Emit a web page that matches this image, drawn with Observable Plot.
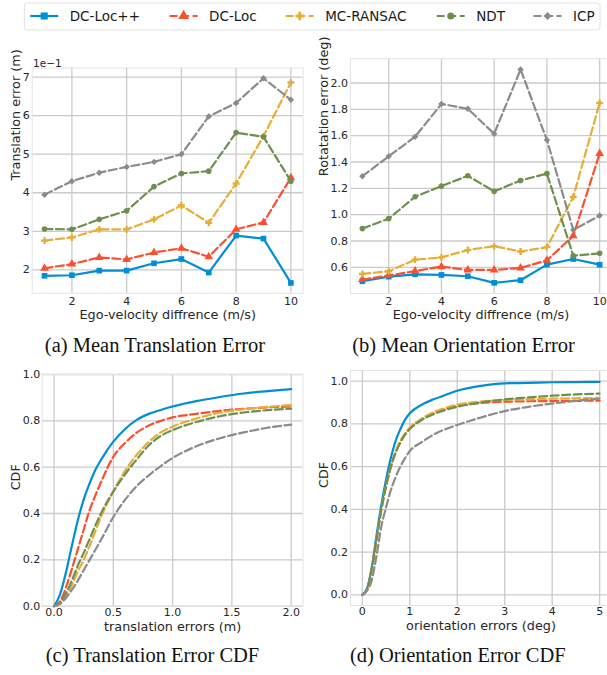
<!DOCTYPE html>
<html><head><meta charset="utf-8">
<script src="https://cdn.jsdelivr.net/npm/d3@7"></script>
<script src="https://cdn.jsdelivr.net/npm/@observablehq/plot@0.6"></script>
<style>
html,body{margin:0;padding:0;background:#fff;overflow:hidden}
#root{position:relative;width:607px;height:675px;overflow:hidden;background:#fff}
#root > svg{position:absolute}
</style></head><body><div id="root"></div>
<script>
// ---------------- data ----------------
const methods = ["DC-Loc++", "DC-Loc", "MC-RANSAC", "NDT", "ICP"];
const velocity = [1, 2, 3, 4, 5, 6, 7, 8, 9, 10];

// (a) mean translation error (m)
const transErrDCLocPP = [0.1845, 0.186, 0.198, 0.198, 0.217, 0.228, 0.193, 0.289, 0.281, 0.166];
const transErrDCLoc   = [0.204, 0.215, 0.232, 0.227, 0.245, 0.256, 0.234, 0.305, 0.323, 0.439];
const transErrMCRansac= [0.276, 0.284, 0.305, 0.305, 0.331, 0.367, 0.322, 0.424, 0.547, 0.686];
const transErrNDT     = [0.306, 0.305, 0.331, 0.353, 0.416, 0.450, 0.456, 0.556, 0.545, 0.430];
const transErrICP     = [0.395, 0.430, 0.452, 0.467, 0.480, 0.500, 0.598, 0.633, 0.697, 0.641];

// (b) mean orientation error (deg)
const rotErrDCLocPP   = [0.494, 0.529, 0.547, 0.542, 0.532, 0.482, 0.502, 0.620, 0.663, 0.620];
const rotErrDCLoc     = [0.507, 0.537, 0.572, 0.605, 0.580, 0.580, 0.595, 0.653, 0.839, 1.464];
const rotErrMCRansac  = [0.550, 0.570, 0.658, 0.675, 0.731, 0.761, 0.720, 0.753, 1.134, 1.849];
const rotErrNDT       = [0.894, 0.970, 1.136, 1.217, 1.295, 1.177, 1.260, 1.312, 0.688, 0.706];
const rotErrICP       = [1.292, 1.443, 1.592, 1.841, 1.804, 1.615, 2.103, 1.567, 0.884, 0.993];

// (c) translation error CDF
const cdfTransX      = [0, 0.05, 0.1, 0.15, 0.2, 0.25, 0.3, 0.35, 0.4, 0.5, 0.6, 0.7, 0.8, 0.9, 1.0, 1.2, 1.4, 1.6, 1.8, 2.0];
const cdfTransDCLocPP= [0, 0.05, 0.145, 0.26, 0.37, 0.46, 0.53, 0.59, 0.635, 0.71, 0.765, 0.805, 0.83, 0.847, 0.862, 0.885, 0.903, 0.918, 0.928, 0.937];
const cdfTransDCLoc  = [0, 0.02, 0.08, 0.16, 0.245, 0.33, 0.415, 0.48, 0.54, 0.645, 0.705, 0.75, 0.78, 0.80, 0.815, 0.83, 0.843, 0.852, 0.858, 0.862];
const cdfTransMCRansac=[0, 0.01, 0.04, 0.09, 0.15, 0.2, 0.26, 0.325, 0.39, 0.495, 0.585, 0.655, 0.71, 0.75, 0.775, 0.81, 0.835, 0.85, 0.86, 0.868];
const cdfTransNDT    = [0, 0.015, 0.055, 0.11, 0.175, 0.23, 0.29, 0.35, 0.405, 0.495, 0.57, 0.635, 0.695, 0.735, 0.76, 0.795, 0.82, 0.836, 0.846, 0.853];
const cdfTransICP    = [0, 0.01, 0.035, 0.07, 0.11, 0.155, 0.2, 0.245, 0.29, 0.385, 0.46, 0.52, 0.565, 0.605, 0.64, 0.69, 0.725, 0.75, 0.77, 0.784];

// (d) orientation error CDF
const cdfRotX        = [0, 0.1, 0.2, 0.3, 0.4, 0.5, 0.6, 0.7, 0.8, 0.9, 1.0, 1.25, 1.5, 1.75, 2.0, 2.5, 3.0, 3.5, 4.0, 4.5, 5.0];
const cdfRotDCLocPP  = [0, 0.03, 0.13, 0.28, 0.42, 0.54, 0.64, 0.72, 0.775, 0.82, 0.85, 0.89, 0.915, 0.935, 0.955, 0.978, 0.99, 0.992, 0.995, 0.996, 0.997];
const cdfRotDCLoc    = [0, 0.025, 0.12, 0.26, 0.40, 0.51, 0.60, 0.665, 0.715, 0.752, 0.78, 0.822, 0.85, 0.87, 0.884, 0.898, 0.904, 0.906, 0.907, 0.908, 0.909];
const cdfRotMCRansac = [0, 0.025, 0.12, 0.26, 0.40, 0.51, 0.60, 0.668, 0.72, 0.756, 0.782, 0.825, 0.855, 0.875, 0.89, 0.905, 0.912, 0.915, 0.918, 0.92, 0.922];
const cdfRotNDT      = [0, 0.028, 0.125, 0.265, 0.40, 0.51, 0.60, 0.665, 0.713, 0.75, 0.776, 0.818, 0.845, 0.865, 0.88, 0.9, 0.915, 0.924, 0.932, 0.938, 0.942];
const cdfRotICP      = [0, 0.02, 0.07, 0.185, 0.32, 0.41, 0.49, 0.55, 0.6, 0.64, 0.673, 0.715, 0.75, 0.775, 0.795, 0.83, 0.86, 0.88, 0.895, 0.908, 0.918];

// tick labels / texts
const ticksVel = [2, 4, 6, 8, 10];
const ticksTrans = [0.2, 0.3, 0.4, 0.5, 0.6, 0.7];
const ticksRot = [0.6, 0.8, 1.0, 1.2, 1.4, 1.6, 1.8, 2.0];
const ticksCdfTransX = [0, 0.5, 1.0, 1.5, 2.0];
const ticksCdfRotX = [0, 1, 2, 3, 4, 5];
const ticksCdf = [0, 0.2, 0.4, 0.6, 0.8, 1.0];
const captions = ["(a) Mean Translation Error", "(b) Mean Orientation Error", "(c) Translation Error CDF", "(d) Orientation Error CDF"];

// ---------------- styles ----------------
const colors = ["#008fd5", "#fc4f30", "#e5ae38", "#6d904f", "#8b8b8b"];
const dashes = [null, "8,3.5", "8,3.5", "8,3.5", "8,3.5"];
const symbols = ["square", "triangle", "cross", "circle", "diamond2"];
const symR = [3.2, 3.2, 2.9, 2.8, 2.9];
const d3sym = {square: d3.symbolSquare, triangle: d3.symbolTriangle, cross: d3.symbolCross, circle: d3.symbolCircle, diamond2: d3.symbolDiamond2};

const root = document.getElementById("root");
const fmt1 = d3.format(".1f");

function rows(xs, ys) { return xs.map((x, i) => ({x, y: ys[i]})); }

function panel(o) {
  const marks = [
    Plot.gridX(o.xTicks, {stroke: "#cbcbcb", strokeOpacity: 1, strokeWidth: 1.3}),
    Plot.gridY(o.yTicks, {stroke: "#cbcbcb", strokeOpacity: 1, strokeWidth: 1.3}),
    Plot.frame({stroke: "#e4e4e4", strokeWidth: 1})
  ];
  o.series.forEach((ys, i) => {
    const data = rows(o.xs, ys);
    marks.push(Plot.line(data, {x: "x", y: "y", stroke: colors[i], strokeWidth: 2.2,
      strokeDasharray: dashes[i] || undefined, curve: o.curve || "linear"}));
    if (o.markers) marks.push(Plot.dot(data, {x: "x", y: "y", symbol: symbols[i], r: symR[i], fill: colors[i], stroke: "none"}));
  });
  marks.push(
    Plot.axisX(o.xTicks, {tickSize: 0, tickPadding: o.xPad, label: null, tickFormat: o.xFormat, fontSize: 11}),
    Plot.axisY(o.yTicks, {tickSize: 0, tickPadding: o.yPad, label: null, tickFormat: o.yFormat, fontSize: 11}),
    Plot.text([o.xLabel], {frameAnchor: "bottom", dy: o.xLabelDy, lineAnchor: "middle", fontSize: 12.8, text: d => d}),
    Plot.text([o.yLabel], {frameAnchor: "left", dx: o.yLabelDx, rotate: -90, lineAnchor: "middle", fontSize: 12.8, text: d => d})
  );
  if (o.extra) marks.push(...o.extra);
  const svg = Plot.plot({
    width: o.width, height: o.height,
    marginLeft: o.m[0], marginTop: o.m[1], marginRight: o.m[2], marginBottom: o.m[3],
    x: {domain: o.xDomain}, y: {domain: o.yDomain},
    style: {fontFamily: "DejaVu Sans", fontSize: "11px", color: "#262626", background: "transparent", overflow: "visible"},
    marks
  });
  svg.style.position = "absolute";
  svg.style.left = o.left + "px";
  svg.style.top = o.top + "px";
  root.appendChild(svg);
}

// (a)
panel({left: 0, top: 40, width: 305, height: 290, m: [31.7, 27.5, 2.3, 37.3],
  xs: velocity, series: [transErrDCLocPP, transErrDCLoc, transErrMCRansac, transErrNDT, transErrICP],
  xDomain: [0.55, 10.45], yDomain: [0.1394, 0.7236], xTicks: ticksVel, yTicks: ticksTrans,
  xFormat: d => String(d), yFormat: d => String(Math.round(d * 10)), markers: true,
  xPad: 4, yPad: 2.5, xLabel: "Ego-velocity diffrence (m/s)", yLabel: "Translation error (m)",
  xLabelDy: 21.8, yLabelDx: -16.7,
  extra: [Plot.text(["1e\u22121"], {frameAnchor: "top-left", dx: 0.8, dy: -4.5, textAnchor: "start", lineAnchor: "middle", fontSize: 10.5, text: d => d})]
});
// (b)
panel({left: 300, top: 40, width: 320, height: 290, m: [50, 18.3, 9, 37],
  xs: velocity, series: [rotErrDCLocPP, rotErrDCLoc, rotErrMCRansac, rotErrNDT, rotErrICP],
  xDomain: [0.55, 10.45], yDomain: [0.401, 2.184], xTicks: ticksVel, yTicks: ticksRot,
  xFormat: d => String(d), yFormat: fmt1, markers: true,
  xPad: 4, yPad: 2.5, xLabel: "Ego-velocity diffrence (m/s)", yLabel: "Rotatation error (deg)",
  xLabelDy: 21.5, yLabelDx: -26.5
});
// (c)
panel({left: 0, top: 360, width: 305, height: 295, m: [41.7, 14, 2.5, 49.3],
  xs: cdfTransX, series: [cdfTransDCLocPP, cdfTransDCLoc, cdfTransMCRansac, cdfTransNDT, cdfTransICP],
  xDomain: [-0.1, 2.1], yDomain: [0, 1], xTicks: ticksCdfTransX, yTicks: ticksCdf,
  xFormat: fmt1, yFormat: fmt1, markers: false, curve: "monotone-x",
  xPad: 2, yPad: 2, xLabel: "translation errors (m)", yLabel: "CDF",
  xLabelDy: 20.2, yLabelDx: -26.4
});
// (d)
panel({left: 300, top: 360, width: 320, height: 295, m: [50, 10, 9, 50],
  xs: cdfRotX, series: [cdfRotDCLocPP, cdfRotDCLoc, cdfRotMCRansac, cdfRotNDT, cdfRotICP],
  xDomain: [-0.25, 5.25], yDomain: [-0.05, 1.05], xTicks: ticksCdfRotX, yTicks: ticksCdf,
  xFormat: d => String(d), yFormat: fmt1, markers: false, curve: "monotone-x",
  xPad: 2, yPad: 2.5, xLabel: "orientation errors (deg)", yLabel: "CDF",
  xLabelDy: 20.5, yLabelDx: -26.5
});

// ---------------- legend + captions overlay ----------------
const ov = d3.select(root).append("svg")
  .attr("width", 607).attr("height", 675)
  .style("left", "0px").style("top", "0px").style("pointer-events", "none");

ov.append("rect").attr("x", 24.4).attr("y", 3).attr("width", 575.6).attr("height", 27)
  .attr("rx", 3).attr("fill", "#fff").attr("stroke", "#e2e2e2").attr("stroke-width", 1);
const legendX = [30.2, 169.6, 285.7, 436.7, 533.5];
const ly = 16;
methods.forEach((name, i) => {
  const g = ov.append("g");
  g.append("line").attr("x1", legendX[i]).attr("x2", legendX[i] + 28).attr("y1", ly).attr("y2", ly)
    .attr("stroke", colors[i]).attr("stroke-width", 2.2).attr("stroke-dasharray", dashes[i]);
  g.append("path").attr("transform", `translate(${legendX[i] + 14},${ly})`)
    .attr("d", d3.symbol(d3sym[symbols[i]], Math.PI * (symR[i] * 1.25) ** 2)()).attr("fill", colors[i]);
  g.append("text").attr("x", legendX[i] + 39.5).attr("y", ly).attr("dy", "0.35em")
    .attr("font-family", "DejaVu Sans").attr("font-size", 13.5).attr("fill", "#1a1a1a").text(name);
});

const capPos = [[155, 352], [463.6, 352], [152.5, 662], [457.8, 662]];
captions.forEach((c, i) => {
  ov.append("text").attr("x", capPos[i][0]).attr("y", capPos[i][1]).attr("text-anchor", "middle")
    .attr("font-family", "Liberation Serif").attr("font-size", 20.5).attr("fill", "#111").text(c);
});
</script></body></html>
